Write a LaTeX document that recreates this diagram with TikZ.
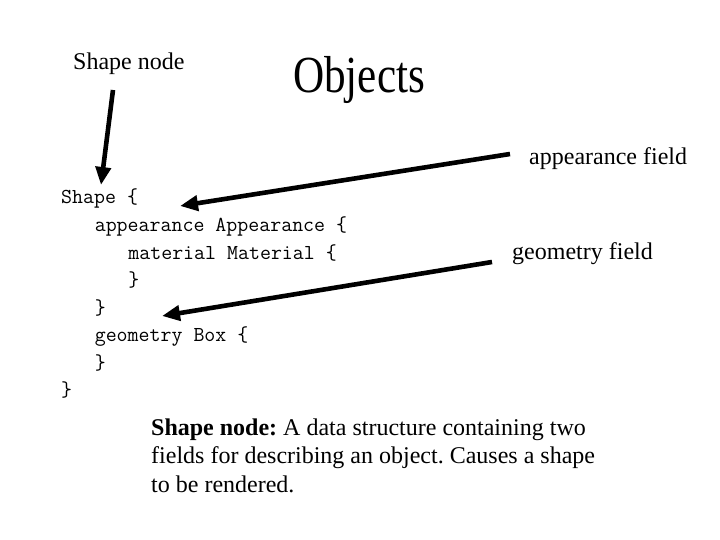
\documentclass[tikz,border=0pt]{standalone}
\usepackage{fontspec}
\setmainfont{Liberation Serif}
\usetikzlibrary{arrows.meta}
\begin{document}
\frenchspacing
\begin{tikzpicture}[x=1pt,y=-1pt,
  lbl/.style={inner sep=0pt,anchor=base west,font=\fontsize{24}{28.5}\selectfont},
  code/.style={inner sep=0pt,anchor=base west,font=\fontsize{21.3}{27.5}\selectfont\ttfamily},
  bigarrow/.style={line width=4.6pt,-{Triangle[length=18pt,width=15pt]}}]
\useasboundingbox[fill=white] (0,0) rectangle (720,540);
% titles
\node[lbl] (shapenode) at (73,70) {Shape node};
\node[inner sep=0pt,anchor=base west,font=\fontsize{52}{60}\selectfont] (objects) at (293,93) {\scalebox{0.83}[1]{Objects}};
\node[lbl] (appfield) at (529,165) {appearance field};
\node[lbl] (geofield) at (512,259) {geometry field};
% code
\node[code] (l1) at (61,204) {Shape \{};
\node[code] (l2) at (94.6,231.5) {appearance Appearance \{};
\node[code] (l3) at (128.2,259) {material Material \{};
\node[code] (l4) at (128.2,286.5) {\}};
\node[code] (l5) at (94.6,314) {\}};
\node[code] (l6) at (94.6,341.5) {geometry Box \{};
\node[code] (l7) at (94.6,369) {\}};
\node[code] (l8) at (61,396.5) {\}};
% description
\node[lbl,anchor=base west,align=left] (desc) at (151,492)
  {\textbf{Shape node:} A data structure containing two\\
   fields for describing an object. Causes a shape\\
   to be rendered.};
% arrow ends
\coordinate (a1s) at (113,90);
\coordinate (a1e) at (101,185);
\coordinate (a2s) at (510,154);
\coordinate (a2e) at (180,206);
\coordinate (a3s) at (492,262);
\coordinate (a3e) at (162,316);
\draw[bigarrow] (a1s) -- (a1e);
\draw[bigarrow] (a2s) -- (a2e);
\draw[bigarrow] (a3s) -- (a3e);
\end{tikzpicture}
\end{document}
